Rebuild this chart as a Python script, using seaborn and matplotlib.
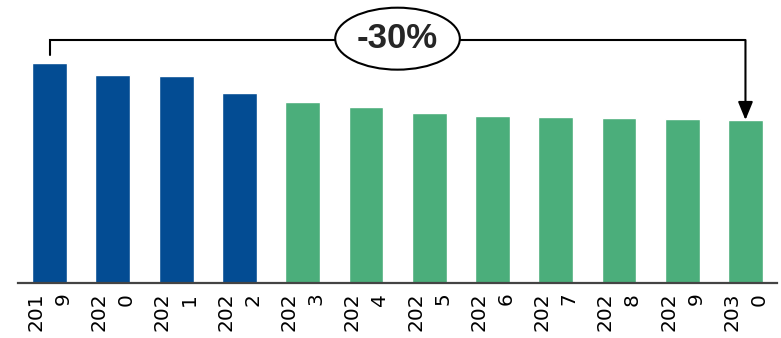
import matplotlib
matplotlib.use("Agg")
import matplotlib.pyplot as plt
from matplotlib.patches import Ellipse
import seaborn as sns
import pandas as pd

# Index of annual values (2019 = 100)
years = ["2019", "2020", "2021", "2022", "2023", "2024",
         "2025", "2026", "2027", "2028", "2029", "2030"]
values = [100.0, 94.8, 94.1, 86.3, 82.2, 80.0,
          77.5, 76.0, 75.6, 75.1, 74.8, 74.2]
phase = ["Actual"] * 4 + ["Forecast"] * 8
tick_labels = ["201\n9", "202\n0", "202\n1", "202\n2", "202\n3", "202\n4",
               "202\n5", "202\n6", "202\n7", "202\n8", "202\n9", "203\n0"]
change_label = "-30%"

palette = {"Actual": "#034C93", "Forecast": "#4BAE7B"}

sns.set_theme(style="white")
plt.rcParams["font.family"] = ["Liberation Sans", "DejaVu Sans"]

df = pd.DataFrame({"year": years, "value": values, "phase": phase})

fig = plt.figure(figsize=(7.81, 3.38), dpi=100)
ax = fig.add_axes([0.023, 0.1627, 0.972, 0.8373])

sns.barplot(data=df, x="year", y="value", hue="phase", palette=palette,
            dodge=False, width=0.55, legend=False, ax=ax, saturation=1)

ax.set_xlim(-0.5, len(years) - 0.5)
ax.set_ylim(0, 128.8)
ax.set_xlabel("")
ax.set_ylabel("")
ax.set_yticks([])
for side in ["top", "right", "left"]:
    ax.spines[side].set_visible(False)
ax.spines["bottom"].set_color("#444444")
ax.spines["bottom"].set_linewidth(1.6)

ax.set_xticks(range(len(years)))
ax.set_xticklabels(tick_labels, rotation=90, fontsize=14.5,
                   family=["DejaVu Sans"], linespacing=1.55,
                   va="top", ha="center", color="black")
for t in ax.get_xticklabels():
    t.set_multialignment("right")
ax.tick_params(axis="x", length=0, pad=7)

# Bracket from the first to the last year with the overall change
y_bracket = 110.6
ax.plot([0, 0, len(years) - 1], [103.8, y_bracket, y_bracket],
        color="black", lw=1.5, clip_on=False, solid_joinstyle="miter")
ax.annotate("", xy=(len(years) - 1, values[-1]),
            xytext=(len(years) - 1, y_bracket),
            arrowprops=dict(arrowstyle="-|>,head_length=11,head_width=4.5",
                            mutation_scale=1, color="black", lw=1.5,
                            shrinkA=0, shrinkB=0))
mid = (len(years) - 1) / 2
ax.add_patch(Ellipse((mid, 111.2), width=1.97, height=28.2,
                     facecolor="white", edgecolor="black", lw=1.5,
                     clip_on=False, zorder=5))
ax.text(mid, 111.2, change_label, ha="center", va="center",
        fontsize=25, fontweight="bold", zorder=6)

fig.savefig("out.png", dpi=100)
